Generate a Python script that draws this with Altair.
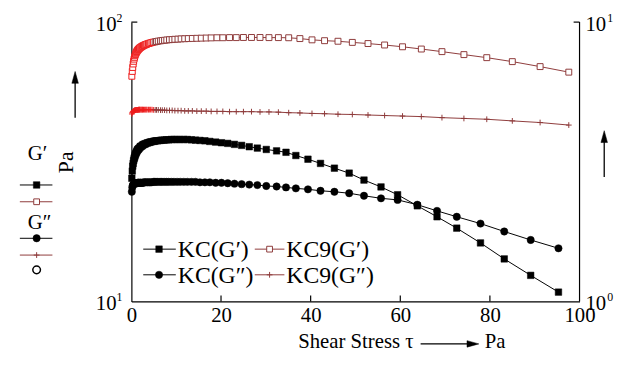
import altair as alt
import pandas as pd

# ---------------- data ----------------
KC_X = [0.1, 0.2, 0.3, 0.4, 0.5, 0.6, 0.7, 0.8, 0.9, 1.0,
        1.1, 1.2, 1.3, 1.4, 1.5, 1.6, 1.7, 1.9, 2.0, 2.1,
        2.3, 2.5, 2.6, 2.8, 3.0, 3.2, 3.5, 3.7, 4.0, 4.2,
        4.5, 4.9, 5.2, 5.5, 5.9, 6.4, 6.8, 7.3, 7.8, 8.3,
        8.9, 9.5, 10.2, 10.9, 11.7, 12.5, 13.4, 14.3, 15.3, 16.4,
        17.5, 18.8, 20.1, 21.5, 23.0, 24.6, 26.3, 28.1, 30.1, 32.4,
        34.5, 36.7, 39.4, 42.2, 45.3, 48.6, 51.9, 55.7, 59.4, 63.8,
        68.2, 72.6, 77.9, 83.2, 89.1, 95.3]
KC_GP = [27.6, 29.3, 30.5, 31.2, 31.9, 32.4, 32.8, 33.2, 33.6, 33.9,
         34.2, 34.4, 34.7, 34.9, 35.0, 35.2, 35.3, 35.6, 35.8, 35.9,
         36.0, 36.2, 36.4, 36.5, 36.6, 36.7, 36.9, 37.0, 37.1, 37.2,
         37.3, 37.4, 37.5, 37.6, 37.6, 37.7, 37.8, 37.8, 37.9, 37.9,
         38.0, 38.0, 38.0, 38.0, 38.0, 38.0, 37.9, 37.8, 37.7, 37.6,
         37.4, 37.2, 37.0, 36.8, 36.5, 36.2, 35.8, 35.4, 35.0, 34.6,
         34.2, 33.3, 32.3, 31.2, 30.0, 28.8, 27.2, 25.7, 24.1, 22.0,
         20.1, 18.3, 16.2, 14.2, 12.4, 10.8]
KC_GPP = [24.7, 25.6, 26.0, 26.2, 26.3, 26.4, 26.4, 26.5, 26.5, 26.5,
          26.5, 26.5, 26.5, 26.6, 26.6, 26.6, 26.6, 26.6, 26.6, 26.6,
          26.6, 26.6, 26.6, 26.7, 26.7, 26.7, 26.7, 26.7, 26.7, 26.7,
          26.7, 26.8, 26.8, 26.8, 26.8, 26.8, 26.8, 26.8, 26.8, 26.8,
          26.8, 26.8, 26.8, 26.8, 26.8, 26.8, 26.8, 26.8, 26.7, 26.7,
          26.7, 26.6, 26.6, 26.5, 26.4, 26.3, 26.2, 26.1, 25.9, 25.8,
          25.6, 25.4, 25.2, 24.9, 24.7, 24.4, 23.9, 23.4, 23.1, 22.2,
          21.1, 20.1, 19.0, 17.8, 16.6, 15.5]

KC9_X = [0.1, 0.2, 0.3, 0.4, 0.5, 0.6, 0.7, 0.8, 0.9, 1.0,
         1.1, 1.2, 1.3, 1.4, 1.5, 1.6, 1.7, 1.8, 1.9, 2.1,
         2.2, 2.4, 2.5, 2.7, 2.9, 3.1, 3.3, 3.5, 3.8, 4.0,
         4.3, 4.6, 4.9, 5.3, 5.6, 6.0, 6.5, 6.9, 7.4, 7.9,
         8.5, 9.1, 9.7, 10.4, 11.1, 11.9, 12.7, 13.6, 14.6, 15.6,
         16.7, 17.8, 19.1, 20.4, 21.9, 23.4, 25.0, 26.8, 28.7, 30.7,
         32.8, 35.1, 37.6, 40.3, 43.1, 46.1, 49.3, 52.8, 56.5, 60.5,
         64.7, 69.3, 74.2, 79.3, 85.0, 91.2, 97.6]
KC9_GP = [64.0, 66.6, 68.8, 70.8, 72.4, 73.7, 74.8, 75.8, 76.6, 77.3,
          77.9, 78.4, 78.9, 79.3, 79.7, 80.0, 80.3, 80.6, 80.9, 81.3,
          81.5, 81.9, 82.1, 82.4, 82.7, 83.0, 83.2, 83.5, 83.8, 84.0,
          84.3, 84.5, 84.8, 85.0, 85.2, 85.5, 85.7, 85.9, 86.1, 86.3,
          86.5, 86.6, 86.8, 86.9, 87.1, 87.2, 87.3, 87.4, 87.5, 87.6,
          87.7, 87.8, 87.9, 87.9, 88.0, 88.0, 88.1, 88.1, 88.1, 88.0,
          88.0, 87.9, 87.3, 86.4, 85.8, 85.4, 84.6, 83.8, 82.8, 81.6,
          80.1, 78.4, 76.5, 74.6, 72.2, 69.3, 66.2]
KC9_GPP = [46.9, 47.4, 47.7, 47.9, 48.1, 48.2, 48.3, 48.4, 48.4, 48.5,
           48.5, 48.5, 48.5, 48.5, 48.5, 48.6, 48.6, 48.6, 48.6, 48.6,
           48.6, 48.6, 48.6, 48.6, 48.6, 48.6, 48.6, 48.6, 48.6, 48.6,
           48.6, 48.6, 48.5, 48.5, 48.5, 48.5, 48.4, 48.4, 48.4, 48.3,
           48.3, 48.3, 48.2, 48.2, 48.2, 48.1, 48.1, 48.1, 48.0, 48.0,
           48.0, 47.9, 47.9, 47.9, 47.8, 47.8, 47.8, 47.8, 47.7, 47.7,
           47.6, 47.4, 47.3, 47.1, 47.0, 46.8, 46.7, 46.5, 46.3, 46.1,
           45.9, 45.5, 45.2, 44.9, 44.3, 43.7, 42.8]

X_TICKS = [0, 20, 40, 60, 80, 100]
INNER_TICKS = [20, 40, 60, 80]
Y_LABEL_VALUES = [10, 100]
Y_LEFT_SUP = ["1", "2"]
Y_RIGHT_SUP = ["0", "1"]
LEGEND_NAMES = ["KC(G\u2032)", "KC9(G\u2032)", "KC(G\u2033)", "KC9(G\u2033)"]

# ---------------- style ----------------
W, H = 454, 283
FONT = "Liberation Serif"
BROWN = "#8e3b3b"
RED = "#ee1c1c"
PLUS = "M-1,0H1M0,-1V1"
ARROW_UP = "M0,-1L0.55,1L-0.55,1Z"
ARROW_RIGHT = "M1,0L-1,0.55L-1,-0.55Z"

kc = pd.DataFrame({"x": KC_X, "gp": KC_GP, "gpp": KC_GPP})
kc9 = pd.DataFrame({"x": KC9_X, "gp": KC9_GP, "gpp": KC9_GPP})
labs = pd.DataFrame({"v": Y_LABEL_VALUES, "base": ["10", "10"],
                     "lsup": Y_LEFT_SUP, "rsup": Y_RIGHT_SUP})
ticks = pd.DataFrame({"t": INNER_TICKS})
one = pd.DataFrame({"k": [0]})

xs = alt.Scale(domain=[0, 100], nice=False, zero=False)
ys = alt.Scale(type="log", domain=[10, 100], nice=False)
x_axis = alt.Axis(values=X_TICKS, ticks=False, grid=False, labelFont=FONT,
                  labelFontSize=21, labelColor="black", labelFlush=False,
                  labelPadding=3, domainColor="black", domainWidth=1.2,
                  title=None, labelOverlap=False)
y_axis = alt.Axis(labels=False, ticks=False, grid=False, domainColor="black",
                  domainWidth=1.2, title=None)


def X(field):
    return alt.X(field, type="quantitative", scale=xs, axis=x_axis)


def Y(field):
    return alt.Y(field, type="quantitative", scale=ys, axis=y_axis)


layers = []

# KC series (black)
layers.append(alt.Chart(kc).mark_line(color="black", strokeWidth=1).encode(x=X("x"), y=Y("gp")))
layers.append(alt.Chart(kc).mark_line(color="black", strokeWidth=1).encode(x=X("x"), y=Y("gpp")))
layers.append(alt.Chart(kc).mark_point(shape="square", size=44, filled=True, fill="black",
                                       stroke="black", strokeWidth=0.5, opacity=1)
              .encode(x=X("x"), y=Y("gp")))
layers.append(alt.Chart(kc).mark_point(shape="circle", size=55, filled=True, fill="black",
                                       stroke="black", strokeWidth=0.5, opacity=1)
              .encode(x=X("x"), y=Y("gpp")))

# KC9 series (brown, red where points crowd near zero)
layers.append(alt.Chart(kc9).mark_line(color=BROWN, strokeWidth=1).encode(x=X("x"), y=Y("gp")))
layers.append(alt.Chart(kc9).mark_line(color=BROWN, strokeWidth=1).encode(x=X("x"), y=Y("gpp")))
red_cond = alt.condition(alt.datum.x < 5, alt.value(RED), alt.value(BROWN))
layers.append(alt.Chart(kc9).mark_point(shape="square", size=36, filled=True, fill="white",
                                        strokeWidth=1, opacity=1)
              .encode(x=X("x"), y=Y("gp"), stroke=red_cond))
layers.append(alt.Chart(kc9).mark_point(shape=PLUS, size=34, filled=False, strokeWidth=1, opacity=1)
              .encode(x=X("x"), y=Y("gpp"), stroke=red_cond))

# inner ticks on x axis
layers.append(alt.Chart(ticks).mark_rule(color="black", strokeWidth=1.2)
              .encode(x=X("t"), y=alt.value(H - 6), y2=alt.value(H)))


def rule_h(x1, x2, py, color="black", w=1.2):
    return alt.Chart(one).mark_rule(color=color, strokeWidth=w).encode(
        x=alt.value(x1), x2=alt.value(x2), y=alt.value(py))


def rule_v(px, y1, y2, color="black", w=1.2):
    return alt.Chart(one).mark_rule(color=color, strokeWidth=w).encode(
        x=alt.value(px), y=alt.value(y1), y2=alt.value(y2))


def txt(px, py, s, size=20, align="left", baseline="middle", angle=0):
    return alt.Chart(one).mark_text(text=s, font=FONT, fontSize=size, align=align,
                                    baseline=baseline, angle=angle, color="black").encode(
        x=alt.value(px), y=alt.value(py))


def sym(px, py, shape, size, fill, stroke, sw=1.0):
    return alt.Chart(one).mark_point(shape=shape, size=size, filled=True, fill=fill,
                                     stroke=stroke, strokeWidth=sw, opacity=1).encode(
        x=alt.value(px), y=alt.value(py))


# right axis and frame ticks
layers.append(rule_v(W, 0, H))
layers.append(rule_h(0, 6, 0))
layers.append(rule_h(W - 6, W, 0))

# y tick labels (10^n)
ylab = alt.Chart(labs)
layers.append(ylab.mark_text(font=FONT, fontSize=21, align="right", baseline="middle",
                             dx=-15, dy=3, color="black")
              .encode(x=alt.value(0), y=Y("v"), text="base:N"))
layers.append(ylab.mark_text(font=FONT, fontSize=12, align="left", baseline="middle",
                             dx=-15, dy=-4, color="black")
              .encode(x=alt.value(0), y=Y("v"), text="lsup:N"))
layers.append(ylab.mark_text(font=FONT, fontSize=21, align="left", baseline="middle",
                             dx=6, dy=3, color="black")
              .encode(x=alt.value(W), y=Y("v"), text="base:N"))
layers.append(ylab.mark_text(font=FONT, fontSize=12, align="left", baseline="middle",
                             dx=28, dy=-4, color="black")
              .encode(x=alt.value(W), y=Y("v"), text="rsup:N"))

# left axis title and arrow
layers.append(txt(-66, 142, "Pa", size=22, align="center", angle=270))
layers.append(rule_v(-57, 60, 97, w=1.3))
layers.append(sym(-57, 56, ARROW_UP, 144, "black", "black", 0.5))

# right arrow
layers.append(rule_v(479, 120, 157, w=1.3))
layers.append(sym(479, 116, ARROW_UP, 144, "black", "black", 0.5))

# bottom axis title and arrow
layers.append(txt(169, 330, "Shear Stress \u03c4", size=21, baseline="alphabetic"))
layers.append(rule_h(293, 342, 326, w=1.3))
layers.append(sym(346, 326, ARROW_RIGHT, 144, "black", "black", 0.5))
layers.append(txt(358, 330, "Pa", size=21, baseline="alphabetic"))

# left side legend
layers.append(txt(-105, 140, "G\u2032", size=21, baseline="alphabetic"))
layers.append(rule_h(-113, -80, 165, w=1))
layers.append(sym(-96, 165, "square", 44, "black", "black", 0.5))
layers.append(rule_h(-113, -80, 182, color=BROWN, w=1))
layers.append(sym(-96, 182, "square", 34, "white", BROWN, 1))
layers.append(txt(-105, 210, "G\u2033", size=21, baseline="alphabetic"))
layers.append(rule_h(-113, -80, 219, w=1))
layers.append(sym(-96, 219, "circle", 55, "black", "black", 0.5))
layers.append(rule_h(-113, -80, 236, color=BROWN, w=1))
layers.append(alt.Chart(one).mark_point(shape=PLUS, size=34, filled=False, stroke=BROWN,
                                        strokeWidth=1, opacity=1)
              .encode(x=alt.value(-96), y=alt.value(236)))
layers.append(sym(-96, 251, "circle", 60, "white", "black", 1.5))

# inner legend
LEG_FS = 24
layers.append(rule_h(12, 45, 230, w=1))
layers.append(sym(28, 230, "square", 44, "black", "black", 0.5))
layers.append(txt(47, 231, LEGEND_NAMES[0], size=LEG_FS))
layers.append(rule_h(125, 155, 230, color=BROWN, w=1))
layers.append(sym(140, 230, "square", 34, "white", BROWN, 1))
layers.append(txt(157, 231, LEGEND_NAMES[1], size=LEG_FS))
layers.append(rule_h(12, 45, 256, w=1))
layers.append(sym(28, 256, "circle", 55, "black", "black", 0.5))
layers.append(txt(47, 257, LEGEND_NAMES[2], size=LEG_FS))
layers.append(rule_h(125, 155, 256, color=BROWN, w=1))
layers.append(alt.Chart(one).mark_point(shape=PLUS, size=34, filled=False, stroke=BROWN,
                                        strokeWidth=1, opacity=1)
              .encode(x=alt.value(140), y=alt.value(256)))
layers.append(txt(157, 257, LEGEND_NAMES[3], size=LEG_FS))

chart = alt.layer(*layers).properties(
    width=W, height=H,
    autosize=alt.AutoSizeParams(type="none"),
    padding={"left": 125, "top": 12, "right": 42, "bottom": 56},
    background="white",
).configure_view(strokeWidth=0)

chart.save("out.html", embed_options={"renderer": "svg", "actions": False})
